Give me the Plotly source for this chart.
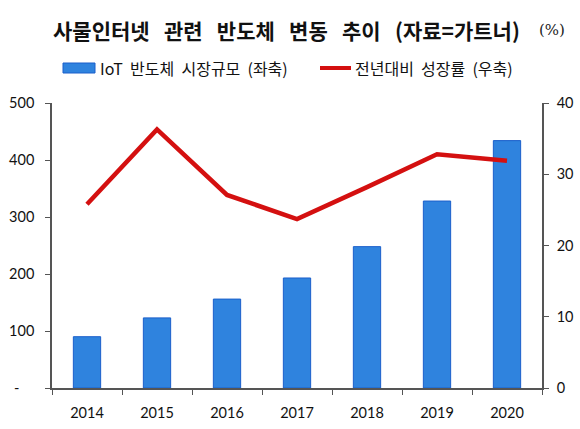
import plotly.graph_objects as go

# data
years = ["2014", "2015", "2016", "2017", "2018", "2019", "2020"]
market_size = [90, 123, 156, 193, 248, 328, 434]       # left axis
growth_rate = [25.8, 36.3, 27.1, 23.7, 28.2, 32.8, 31.9]  # right axis, %
left_ticks = [0, 100, 200, 300, 400, 500]
left_ticktext = ["-\u00a0\u00a0\u00a0\u00a0", "100", "200", "300", "400", "500"]
right_ticks = [0, 10, 20, 30, 40]

W, H = 580, 429
L, R, T, B = 52, 38, 103, 41

FONT = "Lato, Noto Sans CJK KR, sans-serif"
KFONT = "Noto Sans CJK KR, sans-serif"
BLUE = "#2F83DE"
RED = "#D41010"
SP = "\u00a0\u00a0\u00a0"


def px(x):
    # pixel -> paper x
    return (x - L) / (W - L - R)


def py(y):
    # pixel -> paper y
    return (H - B - y) / (H - T - B)


fig = go.Figure()

fig.add_trace(go.Bar(
    x=years, y=market_size, name="IoT 반도체 시장규모 (좌축)",
    marker=dict(color=BLUE, line=dict(color="#1A5FCB", width=1)),
    width=0.39, yaxis="y",
))
fig.add_trace(go.Scatter(
    x=years, y=growth_rate, name="전년대비 성장률 (우축)",
    mode="lines", line=dict(color=RED, width=4.5), yaxis="y2",
))

axis_style = dict(
    showgrid=False, zeroline=False, showline=True, linecolor="#555", linewidth=1.5,
    ticks="outside", ticklen=5, tickcolor="#555", tickfont=dict(size=14.5),
    automargin=False,
)

fig.update_layout(
    width=W, height=H,
    margin=dict(l=L, r=R, t=T, b=B, autoexpand=False),
    paper_bgcolor="white", plot_bgcolor="white",
    showlegend=False,
    font=dict(family=FONT, size=15, color="#111"),
    xaxis=dict(type="category", tickson="boundaries", range=[-0.5, 6.5],
               ticklabelstandoff=11, **axis_style),
    yaxis=dict(range=[0, 500], tickvals=left_ticks, ticktext=left_ticktext,
               ticklabelstandoff=8, **axis_style),
    yaxis2=dict(range=[0, 40], tickvals=right_ticks, overlaying="y", side="right",
                ticklabelstandoff=5, **axis_style),
)

# title
fig.add_annotation(
    xref="paper", yref="paper", x=px(286), y=py(30), showarrow=False,
    text="<b>사물인터넷" + SP + "관련" + SP + "반도체" + SP + "변동" + SP + "추이" + SP
         + "(자료=가트너)</b>",
    font=dict(family=KFONT, size=21, color="#111"), xanchor="center", yanchor="middle",
)
fig.add_annotation(
    xref="paper", yref="paper", x=px(552), y=py(30), showarrow=False,
    text="(%)", font=dict(family="DejaVu Serif, serif", size=15, color="#222"),
    xanchor="center", yanchor="middle",
)

# legend drawn by hand to match the reference symbol sizes
fig.add_shape(type="rect", xref="paper", yref="paper",
              x0=px(63), x1=px(95), y0=py(73), y1=py(63),
              fillcolor=BLUE, line=dict(color="#1A5FCB", width=1))
fig.add_annotation(xref="paper", yref="paper", x=px(98), y=py(68), showarrow=False,
                   text="IoT\u00a0 반도체\u00a0 시장규모\u00a0 (좌축)",
                   xanchor="left", yanchor="middle",
                   font=dict(family=KFONT, size=16, color="#111"))
fig.add_shape(type="line", xref="paper", yref="paper",
              x0=px(320), x1=px(351), y0=py(68), y1=py(68),
              line=dict(color=RED, width=4))
fig.add_annotation(xref="paper", yref="paper", x=px(353), y=py(68), showarrow=False,
                   text="전년대비\u00a0 성장률\u00a0 (우축)",
                   xanchor="left", yanchor="middle",
                   font=dict(family=KFONT, size=16, color="#111"))

# the page keeps the browser's default 8px body margin, drop it so the figure fills the window
fig.write_html("out.html", config={"displayModeBar": False},
               post_script="document.body.style.margin='0';")
